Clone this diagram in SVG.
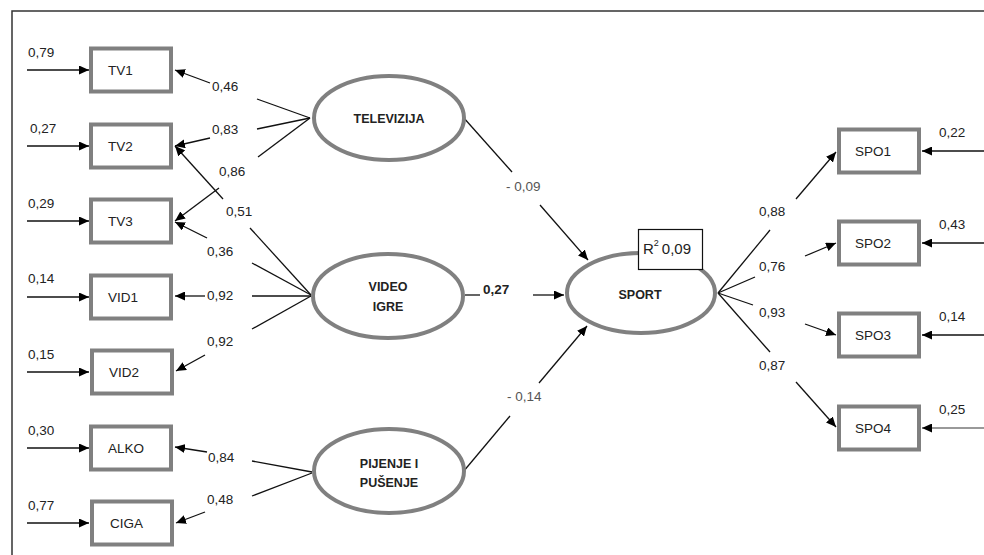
<svg xmlns="http://www.w3.org/2000/svg" width="984" height="555" viewBox="0 0 984 555">
<defs>
<marker id="ah" markerUnits="userSpaceOnUse" markerWidth="11" markerHeight="9" refX="10" refY="4.5" orient="auto">
<path d="M0,0 L10,4.5 L0,9 z" fill="#000"/>
</marker>
<style>
.c{stroke:#111;stroke-width:1.3;fill:none}
.a{stroke:#111;stroke-width:1.3;fill:none;marker-end:url(#ah)}
.box{fill:#fff;stroke:#808080;stroke-width:4}
.ell{fill:#fff;stroke:#808080;stroke-width:4}
.t{font-family:"Liberation Sans",Arial,sans-serif;font-size:13.5px;fill:#222}
.n{font-family:"Liberation Sans",Arial,sans-serif;font-size:13.5px;fill:#222}
.b{font-family:"Liberation Sans",Arial,sans-serif;font-size:12.5px;font-weight:bold;fill:#222;text-anchor:middle}
.g{font-family:"Liberation Sans",Arial,sans-serif;font-size:13.5px;fill:#555}
</style>
</defs>
<rect width="984" height="555" fill="#fff"/>
<path d="M12,555 L12,11 L984,11" fill="none" stroke="#333" stroke-width="1.5"/>

<g id="connectors">
<path class="a" d="M27,70 L89,70"/>
<path class="a" d="M27,146 L89,146"/>
<path class="a" d="M27,221 L89,221"/>
<path class="a" d="M27,297 L89,297"/>
<path class="a" d="M27,372 L89,372"/>
<path class="a" d="M27,448 L89,448"/>
<path class="a" d="M27,523 L89,523"/>
<path class="a" d="M984,151 L922,151"/>
<path class="a" d="M984,243 L922,243"/>
<path class="a" d="M984,335 L922,335"/>
<path class="a" d="M984,428 L922,428" style="stroke:#777"/>
<path class="c" d="M310,118 L257,99"/><path class="a" d="M210,83 L175,70"/>
<path class="c" d="M310,118 L257,129"/><path class="a" d="M210,138 L175,146"/>
<path class="c" d="M310,118 L258,157"/><path class="a" d="M219,188 L175,221"/>
<path class="c" d="M311,295 L250,228"/><path class="a" d="M223,199 L175,146"/>
<path class="c" d="M311,295 L252,263"/><path class="a" d="M207,238 L175,222"/>
<path class="c" d="M311,296 L252,296"/><path class="a" d="M205,296 L175,296"/>
<path class="c" d="M311,296 L252,329"/><path class="a" d="M205,355 L176,371"/>
<path class="c" d="M312,472 L252,461"/><path class="a" d="M207,452 L175,447"/>
<path class="c" d="M312,473 L252,496"/><path class="a" d="M205,512 L176,523"/>
<path class="c" d="M463,117 L512,172"/><path class="a" d="M540,205 L588,260"/>
<path class="c" d="M465,295 L480,295"/><path class="a" d="M533,295 L564,295"/>
<path class="c" d="M463,472 L510,416"/><path class="a" d="M539,383 L587,326"/>
<path class="c" d="M718,293 L770,230"/><path class="a" d="M796,199 L836,152"/>
<path class="c" d="M718,293 L755,277"/><path class="a" d="M805,256 L836,243"/>
<path class="c" d="M718,293 L753,305"/><path class="a" d="M805,324 L836,335"/>
<path class="c" d="M718,293 L770,352"/><path class="a" d="M796,382 L836,427"/>
<text class="n" x="28" y="57">0,79</text>
<text class="n" x="30" y="133">0,27</text>
<text class="n" x="28" y="208">0,29</text>
<text class="n" x="28" y="283">0,14</text>
<text class="n" x="28" y="359">0,15</text>
<text class="n" x="28" y="435">0,30</text>
<text class="n" x="28" y="510">0,77</text>
<text class="n" x="939" y="137">0,22</text>
<text class="n" x="939" y="229">0,43</text>
<text class="n" x="939" y="321">0,14</text>
<text class="n" x="939" y="414">0,25</text>
<text class="n" x="212" y="91">0,46</text>
<text class="n" x="212" y="134">0,83</text>
<text class="n" x="219" y="176">0,86</text>
<text class="n" x="226" y="216">0,51</text>
<text class="n" x="207" y="256">0,36</text>
<text class="n" x="207" y="300">0,92</text>
<text class="n" x="207" y="346">0,92</text>
<text class="n" x="208" y="462">0,84</text>
<text class="n" x="207" y="504">0,48</text>
<text class="n" x="759" y="216">0,88</text>
<text class="n" x="759" y="271">0,76</text>
<text class="n" x="759" y="317">0,93</text>
<text class="n" x="759" y="370">0,87</text>
<text class="g" x="506" y="191">- 0,09</text>
<text class="n" x="483" y="294" style="font-weight:bold">0,27</text>
<text class="g" x="507" y="401">- 0,14</text>
</g>

<g id="TV1"><rect class="box" x="91" y="48.5" width="80" height="43"/><text class="t" x="108" y="75">TV1</text></g>
<g id="TV2"><rect class="box" x="91" y="124.5" width="80" height="43"/><text class="t" x="108" y="151">TV2</text></g>
<g id="TV3"><rect class="box" x="91" y="199.5" width="80" height="43"/><text class="t" x="108" y="226">TV3</text></g>
<g id="VID1"><rect class="box" x="91" y="275.5" width="80" height="43"/><text class="t" x="108" y="302">VID1</text></g>
<g id="VID2"><rect class="box" x="92" y="350.5" width="80" height="43"/><text class="t" x="109" y="377">VID2</text></g>
<g id="ALKO"><rect class="box" x="91" y="426.5" width="80" height="43"/><text class="t" x="108" y="453">ALKO</text></g>
<g id="CIGA"><rect class="box" x="92" y="501.5" width="80" height="43"/><text class="t" x="110" y="528">CIGA</text></g>

<g id="SPO1"><rect class="box" x="839" y="129.5" width="80" height="43"/><text class="t" x="855" y="156">SPO1</text></g>
<g id="SPO2"><rect class="box" x="839" y="221.5" width="80" height="43"/><text class="t" x="855" y="248">SPO2</text></g>
<g id="SPO3"><rect class="box" x="839" y="313.5" width="80" height="43"/><text class="t" x="855" y="340">SPO3</text></g>
<g id="SPO4"><rect class="box" x="839" y="406.5" width="80" height="43"/><text class="t" x="855" y="433">SPO4</text></g>

<g id="TELEVIZIJA"><ellipse class="ell" cx="389" cy="118" rx="75" ry="42"/><text class="b" x="389" y="123">TELEVIZIJA</text></g>
<g id="VIDEO_IGRE"><ellipse class="ell" cx="388" cy="296" rx="75" ry="42"/><text class="b" x="388" y="291">VIDEO</text><text class="b" x="388" y="311">IGRE</text></g>
<g id="PIJENJE_I_PUSENJE"><ellipse class="ell" cx="389" cy="471" rx="75" ry="42"/><text class="b" x="389" y="468">PIJENJE I</text><text class="b" x="389" y="487">PUŠENJE</text></g>
<g id="SPORT"><ellipse class="ell" cx="641" cy="293" rx="74" ry="40"/><text class="b" x="640" y="299">SPORT</text></g>
<g id="R2"><rect x="638.5" y="229.5" width="64" height="40" fill="#fff" stroke="#111" stroke-width="1.2"/><text font-family="Liberation Sans, Arial, sans-serif" font-size="15" fill="#222" x="643" y="254">R<tspan font-size="9" dy="-8">2</tspan><tspan dy="8" dx="3">0,09</tspan></text></g>
</svg>
